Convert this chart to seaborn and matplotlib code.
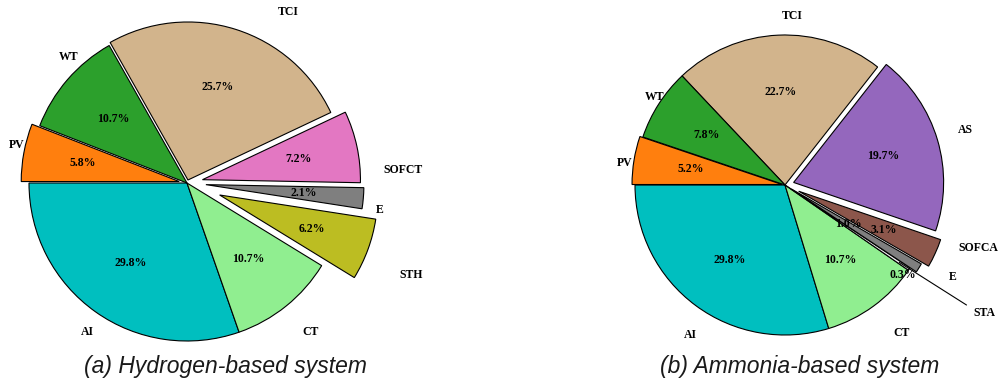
import numpy as np
import matplotlib
matplotlib.use("Agg")
import matplotlib.pyplot as plt
import seaborn as sns

# Cost shares (%) for the hydrogen-based system, counter-clockwise from the left
h2_labels = ["AI", "CT", "STH", "E", "SOFCT", "TCI", "WT", "PV"]
h2_values = [29.8, 10.7, 6.2, 2.1, 7.2, 25.7, 10.7, 5.8]

# Cost shares (%) for the ammonia-based system
nh3_labels = ["AI", "CT", "STA", "E", "SOFCA", "AS", "TCI", "WT", "PV"]
nh3_values = [29.8, 10.7, 0.3, 1.0, 3.1, 19.7, 22.7, 7.8, 5.2]

sns.set_theme(style="white")
tab = sns.color_palette("tab10")
col = {
    "AI": "#00bfbf", "CT": "#90ee90", "STH": tab[8], "E": tab[7],
    "SOFCT": tab[6], "SOFCA": tab[5], "TCI": "#d2b48c", "WT": tab[2],
    "PV": tab[1], "AS": tab[4], "STA": "#f0f0f0",
}

h2_explode = [0.0, 0.0, 0.22, 0.12, 0.1, 0.02, 0.0, 0.05]
nh3_explode = [0.0, 0.0, 0.0, 0.05, 0.1, 0.06, 0.0, 0.0, 0.02]

# category label anchors, in pie-radius units
h2_label_xy = {"AI": (-0.63, -0.94), "CT": (0.78, -0.94), "STH": (1.42, -0.58),
               "E": (1.22, -0.17), "SOFCT": (1.37, 0.08), "TCI": (0.64, 1.08),
               "WT": (-0.75, 0.80), "PV": (-1.08, 0.24)}
nh3_label_xy = {"AI": (-0.63, -1.0), "CT": (0.78, -0.99), "STA": (1.33, -0.85),
                "E": (1.12, -0.61), "SOFCA": (1.29, -0.42), "AS": (1.2, 0.37),
                "TCI": (0.05, 1.13), "WT": (-0.87, 0.59), "PV": (-1.07, 0.15)}
# radial position of the percentage text (default 0.62 plus explode)
nh3_pct_r = {"E": 0.45, "SOFCA": 0.62, "STA": 0.95}

fig = plt.figure(figsize=(10, 3.81), dpi=100)
W, H = 1000, 381


def draw_pie(x0, cx, cy, R, labels, values, explode, label_xy, pct_r=None,
             small=None):
    pct_r = pct_r or {}
    ax = fig.add_axes([x0 / W, 0, 0.5, 1])
    wedges, _ = ax.pie(
        values, colors=[col[l] for l in labels], explode=explode,
        startangle=180, counterclock=True, normalize=True,
        wedgeprops=dict(edgecolor="black", linewidth=0.8),
    )
    # pie() resets the limits; fix the pixel scale afterwards
    ax.set_aspect("auto")
    ax.set_xlim((x0 - cx) / R, (x0 + 500 - cx) / R)
    ax.set_ylim((cy - H) / R, cy / R)
    ax.axis("off")
    for w, lab, v, ex in zip(wedges, labels, values, explode):
        mid = np.deg2rad((w.theta1 + w.theta2) / 2)
        c, s = np.cos(mid), np.sin(mid)
        pr = pct_r.get(lab, 0.62) + ex
        dy = -0.07 if lab == small else 0.0
        ax.text(pr * c, pr * s + dy, f"{v:.1f}%", ha="center", va="center",
                fontsize=8.5, fontweight="bold", family="Liberation Serif",
                color="black")
        lx, ly = label_xy[lab]
        ax.text(lx, ly, lab, ha="center", va="center", fontsize=8.5,
                fontweight="bold", family="Liberation Serif", color="black")
        if lab == small:
            ax.plot([0.92 * c, lx - 0.12], [0.92 * s, ly + 0.05],
                    color="black", linewidth=0.8)
    return ax


draw_pie(0, 187, 183, 158, h2_labels, h2_values, h2_explode, h2_label_xy)
draw_pie(500, 785, 185, 150, nh3_labels, nh3_values, nh3_explode,
         nh3_label_xy, pct_r=nh3_pct_r, small="STA")

fig.text(225 / W, 1 - 367 / H, "(a) Hydrogen-based system", ha="center",
         va="center", fontsize=16.5, style="italic", family="Liberation Sans",
         color="#1a1a1a")
fig.text(800 / W, 1 - 367 / H, "(b) Ammonia-based system", ha="center",
         va="center", fontsize=16.5, style="italic", family="Liberation Sans",
         color="#1a1a1a")

fig.savefig("out.png", dpi=100)
